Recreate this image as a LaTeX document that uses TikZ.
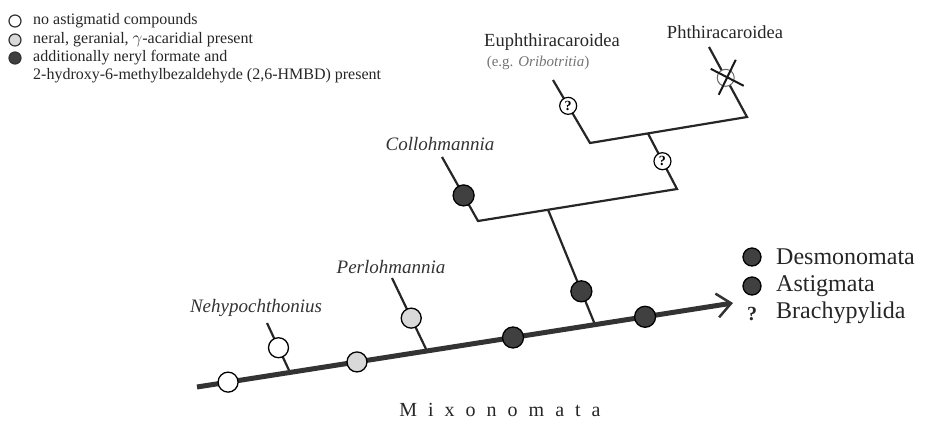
\documentclass[tikz,border=0pt]{standalone}
\usepackage{fontspec}
\setmainfont{Liberation Serif}
\usetikzlibrary{arrows.meta,calc}
\tikzset{
  nochem/.style={circle, draw=black, fill=white, line width=1.3pt, minimum size=20pt, inner sep=0pt},
  somechem/.style={circle, draw=black, fill=gray!30, line width=1.3pt, minimum size=20pt, inner sep=0pt},
  allchem/.style={circle, draw=black, fill=black!75, line width=1.3pt, minimum size=21pt, inner sep=0pt},
  unknown/.style={circle, draw=black, fill=white, line width=1.2pt, minimum size=17pt, inner sep=0pt, font=\fontsize{14}{14}\selectfont\bfseries},
  lost/.style={circle, draw=black!60, fill=white, line width=1pt, minimum size=17pt, inner sep=0pt},
  keydot/.style={circle, draw=black!80, line width=1.2pt, minimum size=12pt, inner sep=0pt},
  branch/.style={line width=2.2pt, black!85},
  trunk/.style={line width=5pt, black!80, -{Straight Barb[length=14pt,width=24pt,line width=2.5pt]}},
  taxon/.style={font=\fontsize{19}{20}\selectfont\itshape, text=black!80},
  group/.style={font=\fontsize{18.5}{20}\selectfont, text=black!85},
  clade/.style={font=\fontsize{24}{26}\selectfont, text=black!85, anchor=west, inner sep=0pt},
  key/.style={font=\fontsize{16}{18}\selectfont, text=black!85, anchor=west, inner sep=0pt}
}

\begin{document}
\begin{tikzpicture}[x=1pt,y=-1pt]
  \useasboundingbox (0,0) rectangle (926,424);
  % legend
  \node[keydot, fill=white] (k1) at (15,21) {};
  \node[keydot, fill=gray!30] (k2) at (15,40) {};
  \node[keydot, fill=black!75] (k3) at (15,58) {};
  \node[key] (t1) at (33,21) {no astigmatid compounds};
  \node[key] (t2) at (33,40) {neral, geranial, $\gamma$-acaridial present};
  \node[key] (t3) at (33,58) {additionally neryl formate and};
  \node[key] (t4) at (33,76) {2-hydroxy-6-methylbezaldehyde (2,6-HMBD) present};

  % tree skeleton
  \coordinate (root) at (197,387);
  \coordinate (tip) at (733,303);
  \coordinate (jN) at ($(root)!0.1735!(tip)$);
  \coordinate (jP) at ($(root)!0.429!(tip)$);
  \coordinate (jB) at ($(root)!0.7425!(tip)$);
  \coordinate (tN) at (267,323);
  \coordinate (tP) at (392,278);
  \coordinate (cL) at (478,221);
  \coordinate (cR) at (677,189);
  \coordinate (jC) at ($(cL)!0.352!(cR)$);
  \coordinate (tC) at (442,157);
  \coordinate (uL) at (590,143);
  \coordinate (uR) at (747,117);
  \coordinate (jU) at ($(uL)!0.369!(uR)$);
  \coordinate (tE) at (553,80);
  \coordinate (tF) at (709,47);

  \draw[branch] (jN) -- (tN);
  \draw[branch] (jP) -- (tP);
  \draw[branch] (jB) -- (jC);
  \draw[branch] (tC) -- (cL) -- (cR) -- (jU);
  \draw[branch] (tE) -- (uL) -- (uR) -- (tF);
  \draw[trunk] (root) -- (tip);

  % character states
  \node[nochem] (m1) at ($(root)!0.058!(tip)$) {};
  \node[somechem] (m2) at ($(root)!0.2985!(tip)$) {};
  \node[allchem] (m3) at ($(root)!0.5896!(tip)$) {};
  \node[allchem] (m4) at ($(root)!0.836!(tip)$) {};
  \node[nochem] (nN) at ($(jN)!0.5!(tN)$) {};
  \node[somechem] (nP) at ($(jP)!0.45!(tP)$) {};
  \node[allchem] (nB) at ($(jB)!0.29!(jC)$) {};
  \node[allchem] (nC) at ($(cL)!0.4!(tC)$) {};
  \node[unknown] (nU) at ($(cR)!0.5!(jU)$) {?};
  \node[unknown] (nE) at ($(uL)!0.59!(tE)$) {?};
  \node[lost] (nF) at ($(uR)!0.56!(tF)$) {};
  \draw[line width=2pt, black!90] ($(nF)+(-15,-9)$) coordinate (x1) -- ($(nF)+(18,8)$) coordinate (x2);
  \draw[line width=2pt, black!90] ($(nF)+(-7,17)$) coordinate (x3) -- ($(nF)+(10,-18)$) coordinate (x4);

  % taxa
  \node[taxon] (lN) at (256,308) {Nehypochthonius};
  \node[taxon] (lP) at (391,267) {Perlohmannia};
  \node[taxon] (lC) at (440,144) {Collohmannia};
  \node[group] (lE) at (552,42) {Euphthiracaroidea};
  \node[group, text=black!55, font=\fontsize{15}{16}\selectfont] (lO) at (538,63) {(e.g. \textit{Oribotritia})};
  \node[group] (lF) at (725,32) {Phthiracaroidea};
  \node[font=\fontsize{20}{22}\selectfont, text=black!85] (lM) at (500,410)
    {M\hspace{0.55em}i\hspace{0.55em}x\hspace{0.55em}o\hspace{0.55em}n\hspace{0.55em}o\hspace{0.55em}m\hspace{0.55em}a\hspace{0.55em}t\hspace{0.55em}a};

  % higher groups
  \node[allchem, minimum size=18pt] (d1) at (752,257) {};
  \node[allchem, minimum size=18pt] (d2) at (752,286) {};
  \node[font=\fontsize{20}{20}\selectfont\bfseries, text=black!85] (d3) at (752,314) {?};
  \node[clade] (g1) at (776,257) {Desmonomata};
  \node[clade] (g2) at (776,286) {Astigmata};
  \node[clade] (g3) at (776,313) {Brachypylida};
\end{tikzpicture}
\end{document}
